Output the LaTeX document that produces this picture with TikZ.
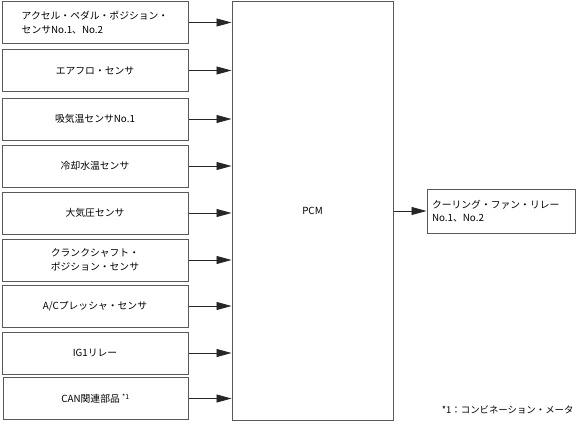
\documentclass[tikz,border=0pt]{standalone}
\usepackage{fontspec}
\setmainfont{Noto Sans CJK JP}
\usepackage{tikz}
\usetikzlibrary{arrows.meta}

\begin{document}
\begin{tikzpicture}[
    x=1pt, y=-1pt,
    sensor/.style={
        draw=black!65, line width=1pt, fill=white,
        minimum width=186pt, minimum height=42pt,
        font=\fontsize{9.8}{13.5}\selectfont, align=left,
        inner sep=0pt
    },
    ecu/.style={
        draw=black!65, line width=1pt,
        minimum width=161pt, minimum height=419pt,
        font=\fontsize{9.8}{13.5}\selectfont
    },
    arr/.style={-{Triangle[length=15pt, width=8pt]}, line width=0.8pt, color=black!85},
    note/.style={font=\fontsize{9.4}{12}\selectfont}
]
    \useasboundingbox (0,0) rectangle (576,421);

    % Input sensors on the left
    \node[sensor] (s1) at (95,22.5) {アクセル・ペダル・ポジション・\\センサNo.1、No.2};
    \node[sensor] (s2) at (95,70.5) {エアフロ・センサ};
    \node[sensor] (s3) at (95,119)  {吸気温センサNo.1};
    \node[sensor] (s4) at (95,166)  {冷却水温センサ};
    \node[sensor] (s5) at (95,213)  {大気圧センサ};
    \node[sensor] (s6) at (95,260)  {クランクシャフト・\\ポジション・センサ};
    \node[sensor] (s7) at (95,306)  {A/Cプレッシャ・センサ};
    \node[sensor] (s8) at (95,353)  {IG1リレー};
    \node[sensor, minimum width=185pt] (s9) at (95.5,398.5) {CAN関連部品 \textsuperscript{*1}};

    % Control unit
    \node[ecu] (pcm) at (312.5,210.5) {PCM};

    % Output
    \node[sensor, minimum width=148pt, minimum height=44pt,
          text width=138pt] (out) at (501,211) {クーリング・ファン・リレー\\No.1、No.2};

    % Arrows into the PCM
    \draw[arr] (s1.east) -- (s1.east -| pcm.west);
    \draw[arr] (s2.east) -- (s2.east -| pcm.west);
    \draw[arr] (s3.east) -- (s3.east -| pcm.west);
    \draw[arr] (s4.east) -- (s4.east -| pcm.west);
    \draw[arr] (s5.east) -- (s5.east -| pcm.west);
    \draw[arr] (s6.east) -- (s6.east -| pcm.west);
    \draw[arr] (s7.east) -- (s7.east -| pcm.west);
    \draw[arr] (s8.east) -- (s8.east -| pcm.west);
    \draw[arr] (s9.east) -- (s9.east -| pcm.west);

    % Arrow out of the PCM
    \draw[arr] (out.west -| pcm.east) -- (out.west);

    % Footnote
    \node[note, anchor=east] (fn) at (577,410) {*1：コンビネーション・メータ};
\end{tikzpicture}
\end{document}
